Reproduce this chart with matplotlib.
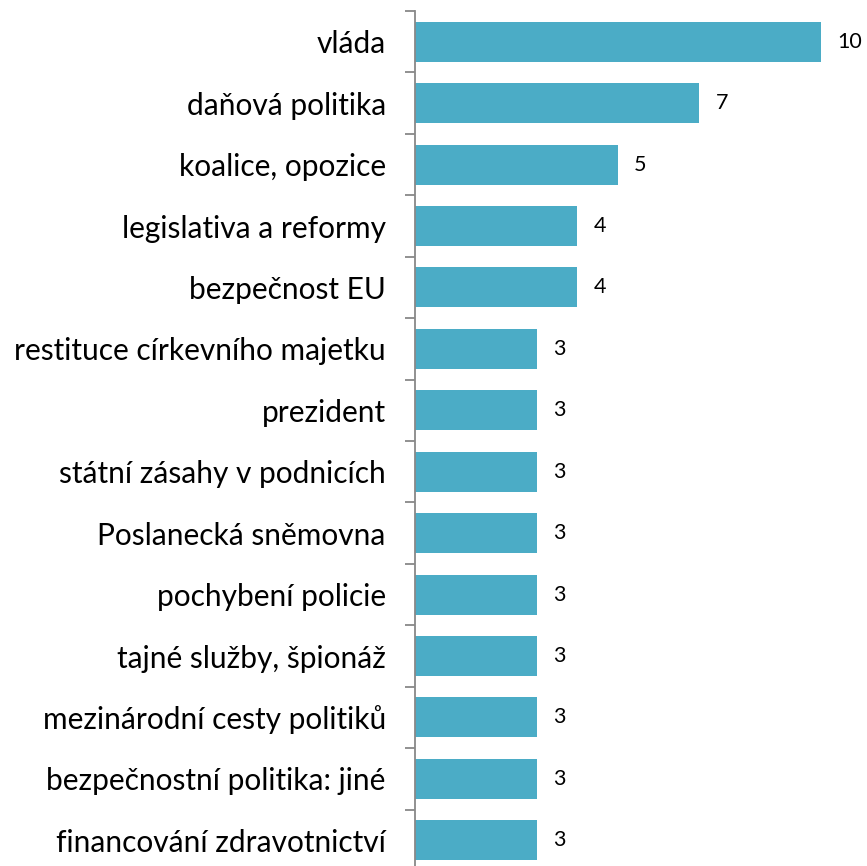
import matplotlib.pyplot as plt

categories = ['vláda', 'daňová politika', 'koalice, opozice', 'legislativa a reformy',
              'bezpečnost EU', 'restituce církevního majetku', 'prezident',
              'státní zásahy v podnicích', 'Poslanecká sněmovna', 'pochybení policie',
              'tajné služby, špionáž', 'mezinárodní cesty politiků',
              'bezpečnostní politika: jiné', 'financování zdravotnictví']
values = [10, 7, 5, 4, 4, 3, 3, 3, 3, 3, 3, 3, 3, 3]

plt.rcParams['font.family'] = ['Lato', 'DejaVu Sans']

fig = plt.figure(figsize=(8.67, 8.66), dpi=100)
ax = fig.add_axes([415 / 867, 1 - 871 / 866, 406 / 867, (871 - 11) / 866])

n = len(categories)
pos = list(range(n))
ax.barh(pos, values, height=0.65, color='#4BACC6', zorder=2)
ax.set_ylim(n - 0.5, -0.5)
ax.set_xlim(0, 10)

for p, v in zip(pos, values):
    ax.text(v + 0.4, p, str(v), va='center', ha='left', fontsize=15.5)

ax.set_yticks(pos)
ax.set_yticklabels(categories, fontsize=21.5)
ax.set_yticks([i + 0.5 for i in range(-1, n)], minor=True)
ax.tick_params(axis='y', which='major', length=0, pad=21)
ax.tick_params(axis='y', which='minor', length=7, color='#888888', width=1.3)
ax.set_xticks([])
for s in ['top', 'right', 'bottom']:
    ax.spines[s].set_visible(False)
ax.spines['left'].set_color('#888888')
ax.spines['left'].set_linewidth(1.3)

fig.savefig('out.png', dpi=100)
